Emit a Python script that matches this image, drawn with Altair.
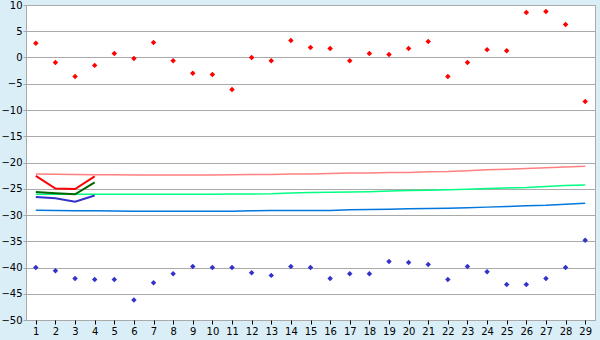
import altair as alt
import pandas as pd

days = list(range(1, 30))
red_pts = [2.7, -0.95, -3.6, -1.5, 0.75, -0.2, 2.85, -0.6, -3.0, -3.25,
           -6.1, 0.0, -0.6, 3.25, 1.9, 1.7, -0.6, 0.75, 0.55, 1.7,
           3.05, -3.6, -0.95, 1.5, 1.3, 8.55, 8.75, 6.3, -8.4]
blue_pts = [-40.0, -40.6, -42.1, -42.3, -42.3, -46.2, -42.9, -41.2, -39.8, -40.0,
            -40.0, -41.0, -41.5, -39.8, -40.0, -42.1, -41.2, -41.2, -38.85, -39.05,
            -39.45, -42.3, -39.8, -40.8, -43.25, -43.25, -42.1, -40.0, -34.8]

line_days = [1, 2, 3, 4]
red_line = [-22.55, -24.95, -25.05, -22.65]
green_line = [-25.6, -25.85, -26.05, -23.8]
blue_line = [-26.55, -26.8, -27.45, -26.3]

pink_norm = [-22.2, -22.25, -22.3, -22.35, -22.35, -22.4, -22.4, -22.4, -22.4, -22.4,
             -22.35, -22.3, -22.3, -22.2, -22.2, -22.1, -22.0, -22.0, -21.9, -21.9,
             -21.75, -21.7, -21.55, -21.4, -21.3, -21.15, -21.0, -20.85, -20.7]
green_norm = [-26.05, -26.05, -26.05, -26.05, -26.05, -26.05, -26.05, -26.05, -26.05, -26.05,
              -26.0, -26.0, -25.95, -25.8, -25.7, -25.65, -25.6, -25.55, -25.45, -25.35,
              -25.3, -25.2, -25.1, -24.95, -24.85, -24.75, -24.55, -24.4, -24.3]
blue_norm = [-29.1, -29.15, -29.2, -29.2, -29.25, -29.3, -29.3, -29.3, -29.3, -29.3,
             -29.3, -29.2, -29.15, -29.15, -29.15, -29.15, -29.0, -28.95, -28.9, -28.8,
             -28.75, -28.7, -28.6, -28.5, -28.4, -28.25, -28.15, -27.95, -27.75]

x_ticks = days
y_ticks = list(range(-50, 15, 5))

xs = alt.Scale(domain=[0.5, 29.5], nice=False, zero=False)
ys = alt.Scale(domain=[-50, 10], nice=False, zero=False)

x_axis = alt.Axis(values=x_ticks, format="d", grid=False, domain=False,
                  tickColor="#000000", tickSize=4, labelPadding=2,
                  labelColor="#000000", labelFont="DejaVu Sans", labelFontSize=10,
                  title=None)
y_axis = alt.Axis(values=y_ticks, format="d", grid=True, gridColor="#aaaaaa",
                  domain=True, domainColor="#aaaaaa", tickColor="#aaaaaa",
                  tickSize=3, labelPadding=1, labelColor="#000000",
                  labelFont="DejaVu Sans", labelFontSize=10, title=None)

def line_layer(xv, yv, color, width):
    df = pd.DataFrame({"day": xv, "val": yv})
    return alt.Chart(df).mark_line(color=color, strokeWidth=width, interpolate="linear").encode(
        x=alt.X("day:Q", scale=xs, axis=x_axis),
        y=alt.Y("val:Q", scale=ys, axis=y_axis),
    )

def pt_layer(xv, yv, color):
    df = pd.DataFrame({"day": xv, "val": yv})
    return alt.Chart(df).mark_point(shape="diamond", filled=True, color=color,
                                    size=30, opacity=1).encode(
        x=alt.X("day:Q", scale=xs, axis=x_axis),
        y=alt.Y("val:Q", scale=ys, axis=y_axis),
    )

chart = alt.layer(
    line_layer(days, pink_norm, "#ff8080", 1.5),
    line_layer(days, green_norm, "#00ff80", 1.5),
    line_layer(days, blue_norm, "#0077dd", 1.5),
    line_layer(line_days, red_line, "#ff0000", 2),
    line_layer(line_days, green_line, "#006600", 2),
    line_layer(line_days, blue_line, "#3333cc", 2),
    pt_layer(days, red_pts, "#ff0000"),
    pt_layer(days, blue_pts, "#3333cc"),
).properties(
    width=569, height=315,
    autosize=alt.AutoSizeParams(type="none"),
    padding={"left": 26, "top": 5, "right": 5, "bottom": 20},
    background="#daeef7",
).configure_view(
    fill="#ffffff", stroke="#aaaaaa", strokeWidth=1
)

chart.save("out.html", embed_options={"renderer": "svg", "actions": False})
